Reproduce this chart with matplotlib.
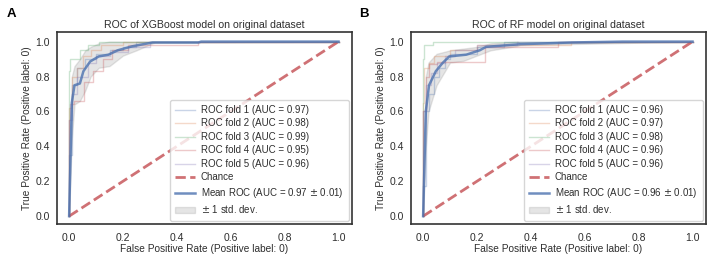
import matplotlib
matplotlib.use("Agg")
import matplotlib.pyplot as plt
import numpy as np

plt.rcParams['font.family'] = ['Liberation Sans', 'DejaVu Sans']

# ---------------- data ----------------
titles = ["ROC of XGBoost model on original dataset", "ROC of RF model on original dataset"]
panel_labels = ["A", "B"]
fold_names = ["ROC fold 1", "ROC fold 2", "ROC fold 3", "ROC fold 4", "ROC fold 5"]

# Panel A fold curves (step corners)
a_fold_fpr = [
    [0, 0.01, 0.03, 0.06, 0.10, 0.15, 0.20, 0.25, 1.0],
    [0, 0.01, 0.03, 0.05, 0.08, 0.12, 0.20, 1.0],
    [0, 0.005, 0.04, 0.07, 0.11, 0.30, 1.0],
    [0, 0.005, 0.019, 0.056, 0.087, 0.124, 0.16, 0.22, 0.48, 1.0],
    [0, 0.01, 0.03, 0.07, 0.10, 0.15, 0.22, 0.30, 1.0],
]
a_fold_tpr = [
    [0, 0.35, 0.75, 0.85, 0.90, 0.93, 0.95, 0.97, 1.0],
    [0, 0.62, 0.80, 0.85, 0.92, 0.95, 0.98, 1.0],
    [0, 0.83, 0.90, 0.95, 0.98, 1.0, 1.0],
    [0, 0.55, 0.64, 0.66, 0.77, 0.83, 0.90, 0.95, 0.98, 1.0],
    [0, 0.55, 0.70, 0.80, 0.88, 0.92, 0.94, 0.97, 1.0],
]
a_fold_auc = [0.97, 0.98, 0.99, 0.95, 0.96]
a_mean_fpr = [0, 0.01, 0.02, 0.04, 0.053, 0.078, 0.11, 0.146, 0.18, 0.234, 0.31, 0.48, 0.49, 1.0]
a_mean_tpr = [0, 0.65, 0.75, 0.76, 0.83, 0.886, 0.915, 0.925, 0.95, 0.973, 0.995, 0.995, 1.0, 1.0]
a_band_fpr = [0, 0.01, 0.02, 0.04, 0.06, 0.08, 0.11, 0.15, 0.20, 0.25, 0.31, 0.32, 1.0]
a_band_up = [0, 0.80, 0.86, 0.90, 0.95, 0.97, 0.99, 1.0, 1.0, 1.0, 1.0, 1.0, 1.0]
a_band_lo = [0, 0.45, 0.64, 0.66, 0.72, 0.80, 0.85, 0.86, 0.92, 0.95, 0.99, 0.995, 1.0]
a_mean_auc = 0.97
a_std_auc = 0.01

# Panel B fold curves
b_fold_fpr = [
    [0, 0.01, 0.02, 0.04, 0.06, 0.08, 0.10, 0.20, 0.30, 1.0],
    [0, 0.005, 0.02, 0.04, 0.10, 0.20, 0.55, 1.0],
    [0, 0.005, 0.035, 0.74, 1.0],
    [0, 0.01, 0.02, 0.05, 0.23, 0.50, 1.0],
    [0, 0.01, 0.03, 0.05, 0.08, 0.12, 0.20, 0.35, 1.0],
]
b_fold_tpr = [
    [0, 0.17, 0.60, 0.70, 0.80, 0.85, 0.90, 0.93, 0.97, 1.0],
    [0, 0.65, 0.85, 0.88, 0.92, 0.95, 0.98, 1.0],
    [0, 0.90, 0.98, 1.0, 1.0],
    [0, 0.60, 0.80, 0.87, 0.885, 0.97, 1.0],
    [0, 0.60, 0.75, 0.82, 0.88, 0.92, 0.95, 0.98, 1.0],
]
b_fold_auc = [0.96, 0.97, 0.98, 0.96, 0.96]
b_mean_fpr = [0, 0.01, 0.022, 0.047, 0.072, 0.097, 0.16, 0.21, 0.234, 0.36, 0.55, 0.74, 1.0]
b_mean_tpr = [0, 0.60, 0.75, 0.83, 0.877, 0.915, 0.925, 0.95, 0.97, 0.985, 0.995, 1.0, 1.0]
b_band_fpr = [0, 0.01, 0.02, 0.05, 0.10, 0.15, 0.20, 0.25, 0.35, 0.36, 1.0]
b_band_up = [0, 0.80, 0.88, 0.93, 0.95, 0.96, 0.97, 0.99, 1.0, 0.99, 1.0]
b_band_lo = [0, 0.40, 0.60, 0.75, 0.88, 0.89, 0.92, 0.95, 0.975, 0.98, 1.0]
b_mean_auc = 0.96
b_std_auc = 0.01

fold_colors = ["#4C72B0", "#DD8452", "#55A868", "#C44E52", "#8172B3"]
mean_color = "#4C72B0"
chance_color = "#C44E52"
text_color = "#2e2e2e"

panels = [
    (a_fold_fpr, a_fold_tpr, a_fold_auc, a_mean_fpr, a_mean_tpr, a_band_fpr, a_band_up, a_band_lo, a_mean_auc, a_std_auc),
    (b_fold_fpr, b_fold_tpr, b_fold_auc, b_mean_fpr, b_mean_tpr, b_band_fpr, b_band_up, b_band_lo, b_mean_auc, b_std_auc),
]

fig = plt.figure(figsize=(7.08, 2.56), dpi=100)
positions = [[57/708, 32/256, 295/708, 192/256], [411/708, 32/256, 295/708, 192/256]]
label_pos = [(7/708, 1 - 14/256), (359/708, 1 - 14/256)]

for i, (ffpr, ftpr, fauc, mfpr, mtpr, bfpr, bup, blo, mauc, sauc) in enumerate(panels):
    ax = fig.add_axes(positions[i])
    for k in range(5):
        ax.step(ffpr[k], ftpr[k], where='pre', color=fold_colors[k], alpha=0.3, lw=1,
                label=f"{fold_names[k]} (AUC = {fauc[k]:.2f})")
    ax.plot([0, 1], [0, 1], linestyle='--', lw=2, color=chance_color, alpha=0.8, label='Chance')
    ax.plot(mfpr, mtpr, color=mean_color, lw=1.8, alpha=0.8,
            label=f"Mean ROC (AUC = {mauc:.2f} $\\pm$ {sauc:.2f})")
    ax.fill_between(bfpr, blo, bup, color='grey', alpha=0.2, label=r'$\pm$ 1 std. dev.')
    ax.set_xlim(-0.045, 1.05)
    ax.set_ylim(-0.045, 1.055)
    ax.set_xticks([0, 0.2, 0.4, 0.6, 0.8, 1.0])
    ax.set_yticks([0, 0.2, 0.4, 0.6, 0.8, 1.0])
    ax.tick_params(length=0, labelsize=7.5, colors=text_color)
    ax.tick_params(axis='y', pad=5)
    ax.tick_params(axis='x', pad=6.5)
    for s in ax.spines.values():
        s.set_color('#333333')
        s.set_linewidth(1.2)
    ax.set_title(titles[i], fontsize=7.6, color=text_color, pad=3)
    ax.set_xlabel("False Positive Rate (Positive label: 0)", fontsize=7.3, color=text_color, labelpad=1)
    ax.set_ylabel("True Positive Rate (Positive label: 0)", fontsize=7.3, color=text_color, labelpad=2.5)
    leg = ax.legend(loc='lower right', fontsize=7, labelspacing=0.36, handlelength=2.05,
                    borderaxespad=0.35, borderpad=0.53, frameon=True, fancybox=True,
                    handletextpad=0.6)
    for t in leg.get_texts():
        t.set_color(text_color)
    fig.text(label_pos[i][0], label_pos[i][1], panel_labels[i], fontsize=9.5, fontweight='bold',
             color='black', ha='left', va='center')

fig.savefig("out.png", dpi=100, facecolor='white')
